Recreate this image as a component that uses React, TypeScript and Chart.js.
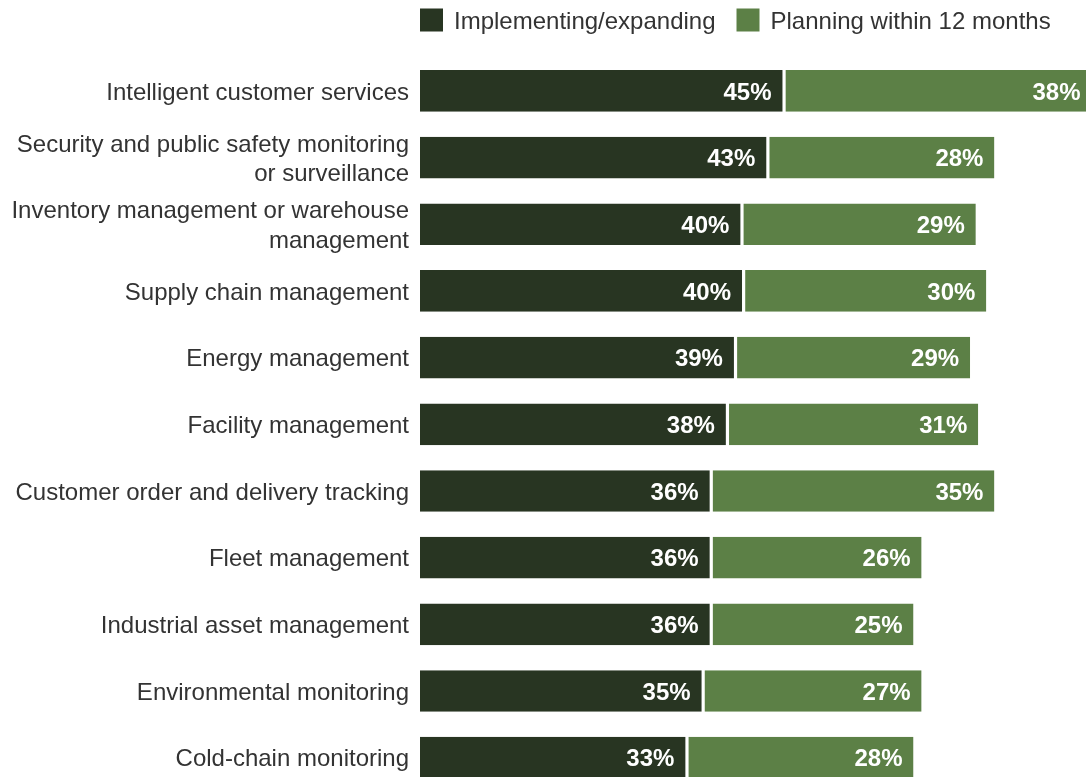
import React, { useEffect, useRef } from 'react';
import { Chart, registerables } from 'chart.js';

Chart.register(...registerables);

const categories: (string | string[])[] = [
  'Intelligent customer services',
  ['Security and public safety monitoring', 'or surveillance'],
  ['Inventory management or warehouse', 'management'],
  'Supply chain management',
  'Energy management',
  'Facility management',
  'Customer order and delivery tracking',
  'Fleet management',
  'Industrial asset management',
  'Environmental monitoring',
  'Cold-chain monitoring',
];
const implementing = [45, 43, 39.8, 40, 39, 38, 36, 36, 36, 35, 33];
const planning = [38, 28, 28.9, 30, 29, 31, 35, 26, 25, 27, 28];
const seriesNames = ['Implementing/expanding', 'Planning within 12 months'];

const DARK = '#283522';
const LIGHT = '#5c8046';
const TEXT = '#333333';
const FAMILY = "'Liberation Sans', Arial, Helvetica, sans-serif";

const legendPlugin = {
  id: 'customLegend',
  afterDraw(chart: any) {
    const ctx = chart.ctx;
    ctx.save();
    ctx.font = `24px ${FAMILY}`;
    ctx.textBaseline = 'alphabetic';
    ctx.textAlign = 'left';
    let x = chart.chartArea.left;
    chart.data.datasets.forEach((ds: any) => {
      ctx.fillStyle = ds.backgroundColor;
      ctx.fillRect(x, 8.5, 23, 23);
      x += 23 + 11;
      ctx.fillStyle = TEXT;
      ctx.fillText(ds.label, x, 29);
      x += ctx.measureText(ds.label).width + 21;
    });
    ctx.restore();
  },
};

const valueLabelPlugin = {
  id: 'valueLabels',
  afterDatasetsDraw(chart: any) {
    const ctx = chart.ctx;
    ctx.save();
    ctx.font = `bold 24px ${FAMILY}`;
    ctx.fillStyle = '#ffffff';
    ctx.textAlign = 'right';
    ctx.textBaseline = 'alphabetic';
    chart.data.datasets.forEach((ds: any, di: number) => {
      const meta = chart.getDatasetMeta(di);
      meta.data.forEach((bar: any, i: number) => {
        const v = ds.data[i];
        const offset = di === 0 ? 12.6 : 11;
        ctx.fillText(`${Math.round(v)}%`, bar.x - offset, bar.y + 8.6);
      });
    });
    ctx.restore();
  },
};

export default function App() {
  const ref = useRef<HTMLCanvasElement | null>(null);

  useEffect(() => {
    if (!ref.current) return;
    const chart = new Chart(ref.current, {
      type: 'bar',
      data: {
        labels: categories as any,
        datasets: [
          {
            label: seriesNames[0],
            data: implementing,
            backgroundColor: DARK,
            borderColor: '#ffffff',
            borderWidth: { top: 0, bottom: 0, left: 0, right: 1.6 } as any,
            borderSkipped: false,
            barPercentage: 0.625,
            categoryPercentage: 1,
          },
          {
            label: seriesNames[1],
            data: planning,
            backgroundColor: LIGHT,
            borderColor: '#ffffff',
            borderWidth: { top: 0, bottom: 0, left: 1.6, right: 0 } as any,
            borderSkipped: false,
            barPercentage: 0.625,
            categoryPercentage: 1,
          },
        ],
      },
      options: {
        indexAxis: 'y',
        responsive: false,
        maintainAspectRatio: false,
        animation: false,
        layout: { padding: { top: 57.6, bottom: 30, left: 0, right: 0 } },
        plugins: {
          legend: { display: false },
          tooltip: { enabled: false },
        },
        scales: {
          x: {
            type: 'linear',
            stacked: true,
            display: false,
            min: 0,
            max: 82.32,
          },
          y: {
            type: 'category',
            stacked: true,
            grid: { display: false, drawTicks: false },
            border: { display: false },
            ticks: {
              color: TEXT,
              padding: 11,
              labelOffset: 2,
              font: { family: FAMILY, size: 24, lineHeight: 1.22 },
            },
            afterFit(scale: any) {
              scale.width = 420;
            },
          },
        },
      },
      plugins: [legendPlugin, valueLabelPlugin],
    });
    return () => chart.destroy();
  }, []);

  return (
    <div
      style={{
        position: 'fixed',
        left: 0,
        top: 0,
        width: 1086,
        height: 777,
        overflow: 'hidden',
        background: '#ffffff',
      }}
    >
      <canvas ref={ref} width={1086} height={821.6} style={{ display: 'block' }} />
    </div>
  );
}
